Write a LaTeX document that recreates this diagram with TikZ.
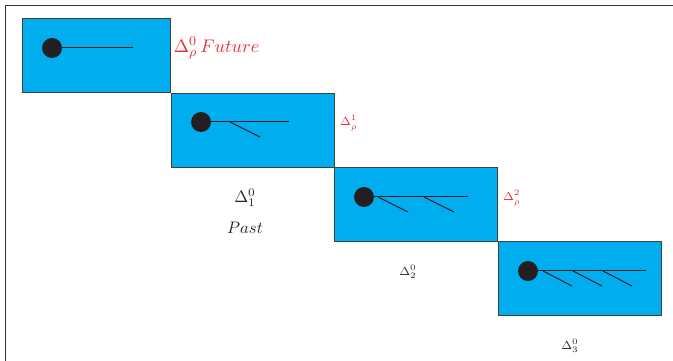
\documentclass[tikz,border=0pt]{standalone}
\usepackage{amsmath}
\usepackage{amssymb}
\usetikzlibrary{positioning}

\definecolor{cellblue}{RGB}{0,174,239}
\definecolor{labelred}{RGB}{232,45,55}
\definecolor{dotblack}{RGB}{35,31,32}

\tikzset{
  cell/.style={draw=black!75, fill=cellblue, line width=0.6pt,
               minimum height=44.4pt, inner sep=0pt, anchor=north west},
  site/.style={circle, fill=dotblack, minimum size=12pt, inner sep=0pt},
  stem/.style={line width=0.6pt, draw=dotblack},
  redlabel/.style={text=labelred, inner sep=1pt},
  pastlabel/.style={text=black!85},
}

\begin{document}
\begin{tikzpicture}[x=0.6pt, y=-0.6pt]
  \useasboundingbox (0,0) rectangle (673,361);
  % frame
  \draw[line width=0.6pt, black!80] (6,361) |- (673,6);

  % cells
  \node[cell, minimum width=88.8pt] (b1) at (22,18) {};
  \node[cell, minimum width=97.8pt] (b2) at (171,93) {};
  \node[cell, minimum width=97.8pt] (b3) at (334,167) {};
  \node[cell, minimum width=97.8pt] (b4) at (498,241) {};

  % sites with stems
  \node[site] (d1) at (52,48) {};
  \coordinate (e1) at (133,48);
  \draw[stem] (d1.center) -- (e1);

  \node[site] (d2) at (201,122) {};
  \coordinate (e2) at (289,122);
  \draw[stem] (d2.center) -- (e2);
  \draw[stem] (230,122) -- (260,137);

  \node[site] (d3) at (364,197) {};
  \coordinate (e3) at (468,197);
  \draw[stem] (d3.center) -- (e3);
  \foreach \x in {378,424}
    \draw[stem] (\x,197) -- ++(30,15);

  \node[site] (d4) at (528,271) {};
  \coordinate (e4) at (646,271);
  \draw[stem] (d4.center) -- (e4);
  \foreach \x in {543,573,603}
    \draw[stem] (\x,271) -- ++(29,15);

  % labels
  \node[redlabel, anchor=west, font=\fontsize{11}{13}\selectfont] (f0) at (172,48) {$\Delta^0_\rho\, Future$};
  \node[redlabel, anchor=west, font=\scriptsize] (f1) at (338,123) {$\Delta^1_\rho$};
  \node[redlabel, anchor=west, font=\scriptsize] (f2) at (501,198) {$\Delta^2_\rho$};

  \node[pastlabel] (p1) at (245,198) {$\Delta^0_1$};
  \node[pastlabel] (past) at (245,228) {$Past$};
  \node[pastlabel, font=\scriptsize] (p2) at (408,272) {$\Delta^0_2$};
  \node[pastlabel, font=\scriptsize] (p3) at (570,346) {$\Delta^0_3$};
\end{tikzpicture}
\end{document}
